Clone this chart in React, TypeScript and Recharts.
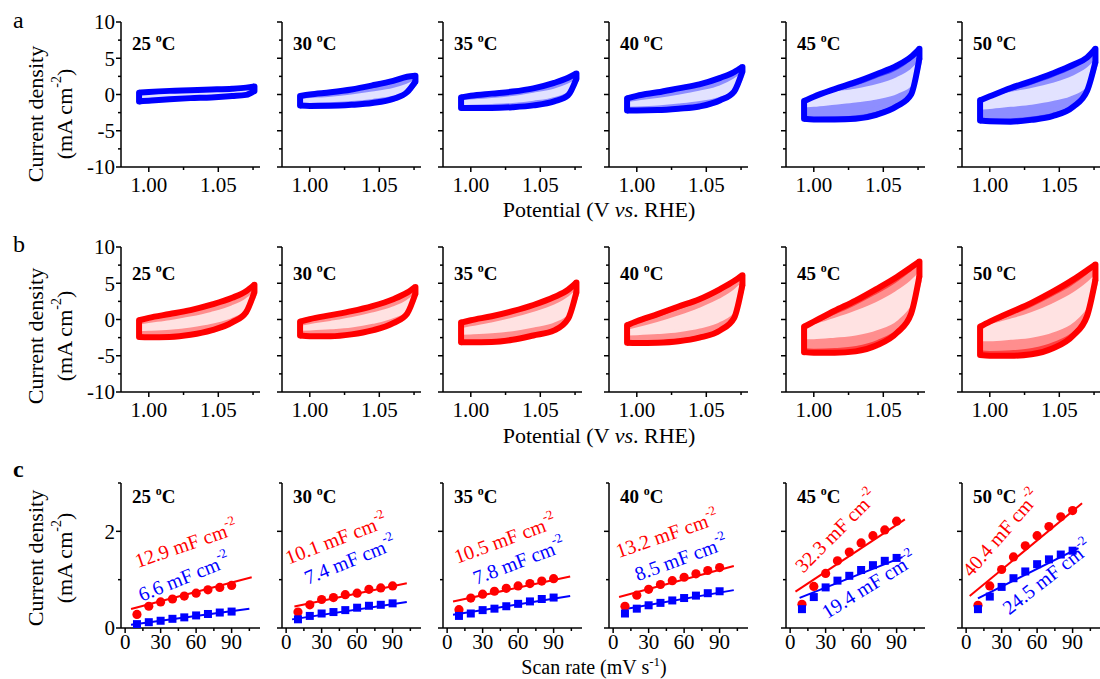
import React from 'react';
import { ComposedChart, Area, Line, Scatter, XAxis, YAxis } from 'recharts';

const FONT = '"Liberation Serif", "Times New Roman", serif';

const TEMPS = [25, 30, 35, 40, 45, 50];
const POTENTIAL = [0.993, 1.0, 1.015, 1.03, 1.045, 1.06, 1.07, 1.076];

// CV loops, mA cm-2 at each POTENTIAL point.
// rows: 90 mV/s up, 90 down, 50 up, 50 down, 10 up, 10 down
const cvA25 = [
  [0.25, 0.35, 0.5, 0.58, 0.68, 0.8, 0.95, 1.1],
  [-0.95, -0.85, -0.65, -0.5, -0.4, -0.22, -0.05, 0.5],
  [0.0, 0.1, 0.25, 0.35, 0.45, 0.55, 0.7, 0.9],
  [-0.7, -0.6, -0.45, -0.3, -0.2, -0.05, 0.1, 0.6],
  [-0.2, -0.12, 0.0, 0.1, 0.2, 0.3, 0.45, 0.7],
  [-0.45, -0.38, -0.25, -0.12, -0.02, 0.1, 0.25, 0.6],
];
const cvA30 = [
  [-0.2, 0.0, 0.3, 0.69, 1.25, 1.89, 2.44, 2.6],
  [-1.52, -1.57, -1.56, -1.43, -1.18, -0.6, 0.32, 1.8],
  [-0.55, -0.4, -0.15, 0.2, 0.65, 1.2, 1.8, 2.2],
  [-1.25, -1.25, -1.2, -1.05, -0.8, -0.3, 0.5, 1.6],
  [-0.8, -0.7, -0.5, -0.2, 0.2, 0.7, 1.3, 1.8],
  [-1.0, -0.95, -0.85, -0.7, -0.4, 0.05, 0.7, 1.4],
];
const cvA35 = [
  [-0.4, -0.18, 0.12, 0.4, 0.85, 1.6, 2.3, 2.9],
  [-1.85, -1.86, -1.86, -1.75, -1.5, -0.95, -0.1, 2.2],
  [-0.75, -0.6, -0.35, -0.05, 0.4, 1.05, 1.75, 2.4],
  [-1.5, -1.5, -1.45, -1.35, -1.05, -0.5, 0.35, 2.0],
  [-1.0, -0.9, -0.7, -0.4, 0.05, 0.6, 1.3, 1.9],
  [-1.25, -1.2, -1.1, -0.95, -0.65, -0.15, 0.6, 1.6],
];
const cvA40 = [
  [-0.55, -0.18, 0.3, 0.85, 1.4, 2.3, 3.1, 3.8],
  [-2.2, -2.2, -2.15, -1.95, -1.65, -0.8, 0.4, 3.2],
  [-0.95, -0.7, -0.3, 0.2, 0.8, 1.6, 2.5, 3.3],
  [-1.8, -1.8, -1.7, -1.5, -1.15, -0.45, 0.6, 2.9],
  [-1.25, -1.05, -0.7, -0.25, 0.3, 1.05, 2.0, 2.8],
  [-1.5, -1.45, -1.3, -1.05, -0.7, -0.1, 0.9, 2.4],
];
const cvA45 = [
  [-0.9, -0.3, 0.75, 1.7, 2.8, 4.0, 5.2, 6.3],
  [-3.35, -3.45, -3.45, -3.35, -2.8, -1.6, 0.0, 5.0],
  [-1.3, -0.9, 0.0, 0.85, 1.9, 3.0, 4.3, 5.5],
  [-2.7, -2.75, -2.7, -2.55, -2.0, -0.9, 0.6, 4.6],
  [-0.6, -0.3, 0.2, 0.6, 1.2, 2.2, 3.3, 4.4],
  [-1.6, -1.5, -1.2, -0.9, -0.5, 0.3, 1.4, 3.6],
];
const cvA50 = [
  [-0.8, -0.25, 0.9, 1.85, 2.9, 4.1, 5.1, 6.3],
  [-3.6, -3.7, -3.75, -3.5, -3.0, -1.7, 0.5, 4.5],
  [-1.3, -0.9, 0.1, 1.0, 2.0, 3.2, 4.3, 5.5],
  [-2.9, -3.0, -2.95, -2.7, -2.2, -1.0, 0.9, 4.2],
  [-0.8, -0.5, 0.15, 0.7, 1.4, 2.4, 3.5, 4.5],
  [-1.9, -1.8, -1.5, -1.2, -0.7, 0.1, 1.4, 3.7],
];
const cvB25 = [
  [-0.1, 0.23, 0.75, 1.3, 2.05, 3.0, 3.9, 4.8],
  [-2.4, -2.45, -2.4, -2.1, -1.5, -0.4, 1.0, 3.8],
  [-0.6, -0.35, 0.15, 0.7, 1.4, 2.35, 3.3, 4.2],
  [-1.9, -1.9, -1.8, -1.5, -0.95, 0.0, 1.3, 3.5],
  [-0.9, -0.7, -0.3, 0.2, 0.85, 1.75, 2.7, 3.6],
  [-1.4, -1.35, -1.2, -0.9, -0.4, 0.45, 1.6, 3.1],
];
const cvB30 = [
  [-0.3, 0.05, 0.6, 1.15, 1.85, 2.8, 3.7, 4.5],
  [-2.2, -2.3, -2.3, -2.05, -1.5, -0.5, 0.8, 3.6],
  [-0.8, -0.5, 0.0, 0.55, 1.25, 2.15, 3.1, 3.9],
  [-1.8, -1.8, -1.7, -1.45, -0.95, -0.05, 1.1, 3.3],
  [-1.1, -0.85, -0.4, 0.1, 0.75, 1.6, 2.5, 3.4],
  [-1.35, -1.3, -1.15, -0.9, -0.4, 0.4, 1.4, 2.9],
];
const cvB35 = [
  [-0.42, -0.1, 0.45, 1.15, 2.0, 3.1, 4.1, 5.1],
  [-3.15, -3.15, -3.1, -2.8, -2.2, -1.5, 0.1, 3.8],
  [-1.0, -0.7, -0.1, 0.55, 1.4, 2.45, 3.5, 4.5],
  [-2.5, -2.5, -2.4, -2.1, -1.55, -0.8, 0.6, 3.5],
  [-1.4, -1.15, -0.6, 0.05, 0.85, 1.85, 2.9, 3.9],
  [-1.9, -1.85, -1.7, -1.4, -0.9, -0.2, 1.0, 3.1],
];
const cvB40 = [
  [-0.8, -0.25, 0.75, 1.8, 2.8, 4.2, 5.3, 6.1],
  [-3.2, -3.25, -3.2, -3.0, -2.5, -1.5, 0.2, 4.8],
  [-1.3, -0.9, 0.0, 1.0, 2.1, 3.4, 4.6, 5.5],
  [-2.6, -2.6, -2.5, -2.3, -1.8, -0.8, 0.8, 4.5],
  [-1.6, -1.3, -0.55, 0.35, 1.4, 2.7, 3.9, 4.9],
  [-2.0, -1.95, -1.8, -1.55, -1.05, -0.1, 1.3, 4.0],
];
const cvB45 = [
  [-1.0, -0.3, 1.2, 2.6, 4.2, 5.9, 7.2, 8.0],
  [-4.5, -4.6, -4.6, -4.4, -3.6, -1.8, 0.8, 6.0],
  [-1.6, -1.0, 0.3, 1.6, 3.1, 4.8, 6.2, 7.2],
  [-3.6, -3.7, -3.6, -3.3, -2.5, -0.9, 1.5, 5.5],
  [-1.3, -0.9, 0.0, 1.0, 2.2, 3.8, 5.2, 6.3],
  [-2.5, -2.5, -2.3, -2.0, -1.3, 0.1, 2.3, 4.9],
];
const cvB50 = [
  [-1.0, -0.3, 1.0, 2.3, 3.8, 5.5, 6.8, 7.6],
  [-4.9, -5.0, -5.0, -4.8, -4.0, -2.2, 0.5, 5.5],
  [-1.6, -1.0, 0.15, 1.35, 2.8, 4.4, 5.8, 6.8],
  [-3.9, -4.0, -3.9, -3.6, -2.8, -1.2, 1.2, 5.1],
  [-1.3, -0.9, -0.1, 0.8, 2.0, 3.5, 4.9, 6.0],
  [-2.8, -2.8, -2.6, -2.3, -1.6, -0.2, 2.0, 4.6],
];
const cvA = [cvA25, cvA30, cvA35, cvA40, cvA45, cvA50];
const cvB = [cvB25, cvB30, cvB35, cvB40, cvB45, cvB50];

// panel c: current density vs scan rate
const SCAN_RATES = [10, 20, 30, 40, 50, 60, 70, 80, 90];
const jRed = [
  [0.28, 0.45, 0.54, 0.6, 0.66, 0.72, 0.79, 0.84, 0.88],
  [0.33, 0.48, 0.59, 0.63, 0.69, 0.72, 0.8, 0.83, 0.87],
  [0.38, 0.62, 0.7, 0.76, 0.82, 0.87, 0.92, 0.97, 1.02],
  [0.45, 0.68, 0.8, 0.9, 0.98, 1.05, 1.12, 1.19, 1.25],
  [0.49, 0.86, 1.13, 1.39, 1.57, 1.76, 1.91, 2.03, 2.21],
  [0.47, 0.87, 1.21, 1.47, 1.7, 1.91, 2.1, 2.3, 2.43],
];
const jBlue = [
  [0.08, 0.12, 0.15, 0.19, 0.22, 0.26, 0.29, 0.32, 0.34],
  [0.18, 0.25, 0.3, 0.33, 0.37, 0.42, 0.46, 0.48, 0.51],
  [0.25, 0.3, 0.37, 0.4, 0.45, 0.5, 0.55, 0.6, 0.63],
  [0.3, 0.4, 0.47, 0.52, 0.57, 0.62, 0.67, 0.72, 0.76],
  [0.39, 0.64, 0.84, 0.98, 1.08, 1.2, 1.3, 1.39, 1.45],
  [0.39, 0.65, 0.85, 1.03, 1.17, 1.32, 1.42, 1.52, 1.6],
];
const cdlRed = [12.9, 10.1, 10.5, 13.2, 32.3, 40.4];
const cdlBlue = [6.6, 7.4, 7.8, 8.5, 19.4, 24.5];
const fitRedIntercept = [0.36, 0.41, 0.52, 0.61, 0.68, 0.6];
const fitBlueIntercept = [0.05, 0.16, 0.255, 0.35, 0.545, 0.49];
const fitRedRange = [[5, 107], [7, 102], [5, 104], [5, 102], [4.5, 97], [3, 98]];
const fitBlueRange = [[5, 105], [5, 102], [5, 104], [8, 102], [8, 95], [10, 95]];

// layout
const AXIS_X = [121, 282, 443, 609, 786, 962];
const PLOT_W = 139;
const PLOT_H = 145;
const ROW_TOP = [22, 247, 483];
const Y_AXIS_W = 45;
const TOP_PAD = 14;
const X_AXIS_H = 32;
const AXIS_Y = TOP_PAD + PLOT_H;

const BLUE = { line: '#0000ff', o: '#4040ff', m: '#8e8eff', i: '#e2e2ff' };
const RED = { line: '#ff0000', o: '#ff4040', m: '#ff8e8e', i: '#ffe2e2' };

const axisStyle = { stroke: '#000', strokeWidth: 1.5 };

const near = (a: number, b: number) => Math.abs(a - b) < 1e-6;

// tick with its own mark, so major and minor ticks get different lengths
const makeXTick = (label: (v: number) => string, major: (v: number) => boolean, gap: number) => (props: any) => {
  const v = props.payload.value;
  const x = props.x;
  const txt = label(v);
  return (
    <g>
      <line x1={x} x2={x} y1={AXIS_Y} y2={AXIS_Y + (major(v) ? 5 : 3)} stroke="#000" strokeWidth={1.5} />
      {txt !== '' && (
        <text x={x} y={AXIS_Y + gap} dy="0.71em" textAnchor="middle" fontSize={21} fontFamily={FONT} fill="#000">
          {txt}
        </text>
      )}
    </g>
  );
};

const makeYTick = (label: (v: number) => string, major: (v: number) => boolean) => (props: any) => {
  const v = props.payload.value;
  const y = props.y;
  const txt = label(v);
  return (
    <g>
      <line x1={Y_AXIS_W} x2={Y_AXIS_W - (major(v) ? 5 : 3)} y1={y} y2={y} stroke="#000" strokeWidth={1.5} />
      {txt !== '' && (
        <text x={Y_AXIS_W - 6} y={y} dy="0.355em" textAnchor="end" fontSize={21} fontFamily={FONT} fill="#000">
          {txt}
        </text>
      )}
    </g>
  );
};

const cvXTick = makeXTick(
  (v) => (near(v, 1) ? '1.00' : near(v, 1.05) ? '1.05' : ''),
  (v) => near(v, 1) || near(v, 1.05),
  10
);
const cvYTickLabelled = makeYTick((v) => (v % 5 === 0 ? String(v) : ''), (v) => v % 5 === 0);
const cvYTickPlain = makeYTick(() => '', (v) => v % 5 === 0);
const rateXTick = makeXTick((v) => (v % 30 === 0 ? String(v) : ''), (v) => v % 30 === 0, 6);
const rateYTickLabelled = makeYTick((v) => (v % 2 === 0 && v < 3 ? String(v) : ''), (v) => v % 2 === 0);
const rateYTickPlain = makeYTick(() => '', (v) => v % 2 === 0);

function CvPanel({ loops, idx, row, pal }: { loops: number[][]; idx: number; row: number; pal: typeof BLUE }) {
  const rows = POTENTIAL.map((p, k) => ({
    p,
    o: [loops[1][k], loops[0][k]],
    m: [loops[3][k], loops[2][k]],
    i: [loops[5][k], loops[4][k]],
  }));
  const last = POTENTIAL.length - 1;
  const leftSide = [
    { p: POTENTIAL[0], j: loops[1][0] },
    { p: POTENTIAL[0], j: loops[0][0] },
  ];
  const rightSide = [
    { p: POTENTIAL[last], j: loops[1][last] },
    { p: POTENTIAL[last], j: loops[0][last] },
  ];
  return (
    <div style={{ position: 'absolute', left: AXIS_X[idx] - Y_AXIS_W, top: ROW_TOP[row] - TOP_PAD }}>
      <ComposedChart
        width={Y_AXIS_W + PLOT_W + 5}
        height={TOP_PAD + PLOT_H + X_AXIS_H}
        data={rows}
        margin={{ top: TOP_PAD, right: 5, left: 0, bottom: 0 }}
      >
        <XAxis
          type="number"
          dataKey="p"
          domain={[0.98, 1.08]}
          allowDataOverflow
          ticks={[1.0, 1.025, 1.05, 1.075]}
          interval={0}
          height={X_AXIS_H}
          axisLine={axisStyle}
          tickLine={false}
          tick={cvXTick}
        />
        <YAxis
          type="number"
          domain={[-10, 10]}
          allowDataOverflow
          ticks={[-10, -7.5, -5, -2.5, 0, 2.5, 5, 7.5, 10]}
          interval={0}
          width={Y_AXIS_W}
          axisLine={axisStyle}
          tickLine={false}
          tick={idx === 0 ? cvYTickLabelled : cvYTickPlain}
        />
        <Area dataKey="o" type="monotone" fill={pal.o} fillOpacity={1} stroke={pal.o} strokeWidth={4} isAnimationActive={false} />
        <Area dataKey="m" type="monotone" fill={pal.m} fillOpacity={1} stroke={pal.m} strokeWidth={5} isAnimationActive={false} />
        <Area dataKey="i" type="monotone" fill={pal.i} fillOpacity={1} stroke={pal.i} strokeWidth={3} isAnimationActive={false} />
        <Area dataKey="o" type="monotone" fill="none" stroke={pal.line} strokeWidth={6} isAnimationActive={false} />
        <Line data={leftSide} dataKey="j" type="linear" stroke={pal.line} strokeWidth={6} strokeLinecap="round" dot={false} isAnimationActive={false} />
        <Line data={rightSide} dataKey="j" type="linear" stroke={pal.line} strokeWidth={6} strokeLinecap="round" dot={false} isAnimationActive={false} />
      </ComposedChart>
    </div>
  );
}

const RedDot = (props: any) => <circle cx={props.cx} cy={props.cy} r={4.6} fill="#ff0000" />;
const BlueSquare = (props: any) => <rect x={props.cx - 4} y={props.cy - 4} width={8} height={8} fill="#0000ff" />;

function RatePanel({ idx }: { idx: number }) {
  const red = SCAN_RATES.map((x, k) => ({ x, y: jRed[idx][k] }));
  const blue = SCAN_RATES.map((x, k) => ({ x, y: jBlue[idx][k] }));
  const redSlope = cdlRed[idx] / 2000;
  const blueSlope = cdlBlue[idx] / 2000;
  const redFit = fitRedRange[idx].map((x) => ({ x, y: fitRedIntercept[idx] + redSlope * x }));
  const blueFit = fitBlueRange[idx].map((x) => ({ x, y: fitBlueIntercept[idx] + blueSlope * x }));
  return (
    <div style={{ position: 'absolute', left: AXIS_X[idx] - Y_AXIS_W, top: ROW_TOP[2] - TOP_PAD }}>
      <ComposedChart
        width={Y_AXIS_W + PLOT_W + 5}
        height={TOP_PAD + PLOT_H + X_AXIS_H}
        margin={{ top: TOP_PAD, right: 5, left: 0, bottom: 0 }}
      >
        <XAxis
          type="number"
          dataKey="x"
          domain={[-3.5, 114]}
          allowDataOverflow
          ticks={[0, 15, 30, 45, 60, 75, 90, 105]}
          interval={0}
          height={X_AXIS_H}
          axisLine={axisStyle}
          tickLine={false}
          tick={rateXTick}
        />
        <YAxis
          type="number"
          dataKey="y"
          domain={[0, 3]}
          allowDataOverflow
          ticks={[0, 1, 2, 3]}
          interval={0}
          width={Y_AXIS_W}
          axisLine={axisStyle}
          tickLine={false}
          tick={idx === 0 ? rateYTickLabelled : rateYTickPlain}
        />
        <Line data={redFit} dataKey="y" type="linear" stroke="#ff0000" strokeWidth={2} dot={false} isAnimationActive={false} />
        <Line data={blueFit} dataKey="y" type="linear" stroke="#0000ff" strokeWidth={2} dot={false} isAnimationActive={false} />
        <Scatter data={red} dataKey="y" shape={RedDot} isAnimationActive={false} />
        <Scatter data={blue} dataKey="y" shape={BlueSquare} isAnimationActive={false} />
      </ComposedChart>
    </div>
  );
}

// rotated capacitance labels: [centre x, centre y, angle]
const RED_LABEL_POS = [[186, 544, -19], [336, 539, -21], [505, 539, -20], [667, 534, -19], [836, 531, -45], [1001, 533, -49]];
const BLUE_LABEL_POS = [[184, 577, -22], [350, 560, -22], [519, 561, -21], [681, 558, -20], [869, 585, -32], [1047, 577, -38]];

const TEMP_Y = [50, 280, 503];
const Y_TITLE_CY = [114, 336, 558];

function Overlay() {
  return (
    <svg width={1100} height={679} style={{ position: 'absolute', left: 0, top: 0, pointerEvents: 'none' }} fontFamily={FONT}>
      <text x={13} y={28} fontSize={24}>a</text>
      <text x={13} y={252} fontSize={24}>b</text>
      <text x={13} y={477} fontSize={24} fontWeight="bold">c</text>

      {ROW_TOP.map((_, r) =>
        TEMPS.map((t, i) => (
          <text key={`t${r}-${i}`} x={AXIS_X[i] + 11} y={TEMP_Y[r]} fontSize={19} fontWeight="bold">
            {`${t} `}
            <tspan dy={-8} fontSize={12}>o</tspan>
            <tspan dy={8}>C</tspan>
          </text>
        ))
      )}

      {Y_TITLE_CY.map((cy, r) => (
        <g key={`yt${r}`}>
          <text x={35} y={cy} fontSize={22} textAnchor="middle" dominantBaseline="central" transform={`rotate(-90 35 ${cy})`}>
            Current density
          </text>
          <text x={64} y={cy} fontSize={22} textAnchor="middle" dominantBaseline="central" transform={`rotate(-90 64 ${cy})`}>
            (mA cm
            <tspan dy={-8} fontSize={14}>-2</tspan>
            <tspan dy={8}>)</tspan>
          </text>
        </g>
      ))}

      <text x={599} y={217} fontSize={22} textAnchor="middle">
        Potential (V <tspan fontStyle="italic">vs</tspan>. RHE)
      </text>
      <text x={599} y={443} fontSize={22} textAnchor="middle">
        Potential (V <tspan fontStyle="italic">vs</tspan>. RHE)
      </text>
      <text x={594} y={674} fontSize={20} textAnchor="middle">
        Scan rate (mV s
        <tspan dy={-8} fontSize={13}>-1</tspan>
        <tspan dy={8}>)</tspan>
      </text>

      {RED_LABEL_POS.map(([x, y, a], i) => (
        <text key={`rl${i}`} x={x} y={y} fontSize={20} fill="#ff0000" textAnchor="middle" dominantBaseline="central" transform={`rotate(${a} ${x} ${y})`}>
          {`${cdlRed[i].toFixed(1)} mF cm`}
          <tspan dy={-8} fontSize={13}>-2</tspan>
        </text>
      ))}
      {BLUE_LABEL_POS.map(([x, y, a], i) => (
        <text key={`bl${i}`} x={x} y={y} fontSize={20} fill="#0000ff" textAnchor="middle" dominantBaseline="central" transform={`rotate(${a} ${x} ${y})`}>
          {`${cdlBlue[i].toFixed(1)} mF cm`}
          <tspan dy={-8} fontSize={13}>-2</tspan>
        </text>
      ))}
    </svg>
  );
}

export default function App() {
  return (
    <div style={{ position: 'absolute', left: 0, top: 0, width: 1100, height: 679, overflow: 'hidden', background: '#fff', fontFamily: FONT }}>
      {cvA.map((loops, i) => (
        <CvPanel key={`a${i}`} loops={loops} idx={i} row={0} pal={BLUE} />
      ))}
      {cvB.map((loops, i) => (
        <CvPanel key={`b${i}`} loops={loops} idx={i} row={1} pal={RED} />
      ))}
      {TEMPS.map((_, i) => (
        <RatePanel key={`c${i}`} idx={i} />
      ))}
      <Overlay />
    </div>
  );
}
